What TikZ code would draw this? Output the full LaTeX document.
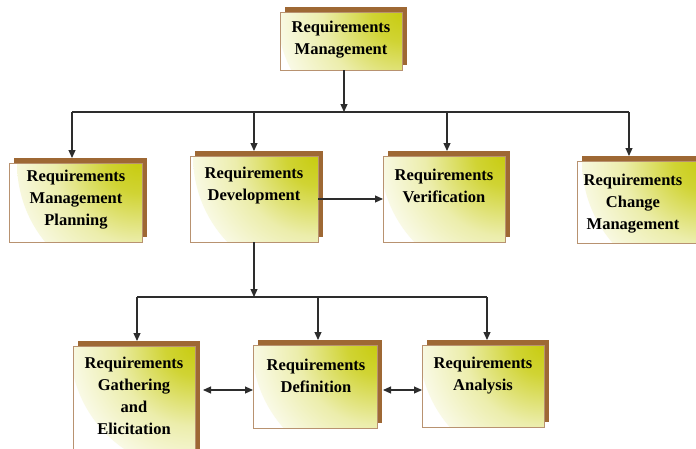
\documentclass[tikz,border=0pt]{standalone}
\usepackage{fontspec}
\setmainfont{Liberation Serif}
\usetikzlibrary{shadows,arrows.meta}
\definecolor{glowc}{RGB}{200,204,16}
\definecolor{edgec}{RGB}{184,146,112}
\definecolor{shadowc}{RGB}{158,104,52}
\definecolor{linec}{RGB}{45,45,45}
\pgfdeclareradialshading{cornerglow}{\pgfpoint{0bp}{0bp}}{color(0bp)=(glowc); color(6bp)=(glowc!85!white); color(16bp)=(glowc!35!white); color(26bp)=(glowc!8!white); color(34bp)=(white); color(50bp)=(white)}
\tikzset{
  rbox/.style={rectangle, draw=edgec, line width=0.9pt, fill=white, inner sep=0pt, outer sep=0pt,
    general shadow={shadow xshift=5pt, shadow yshift=5pt, fill=shadowc, draw=none},
    path picture={\shade[shading=cornerglow] (path picture bounding box.north east) circle (125pt);}},
  rtext/.style={align=center, inner sep=0pt, text=black, font=\bfseries\fontsize{16.5}{22}\selectfont},
  arr/.style={draw=linec, line width=1.1pt, -{Triangle[length=8pt,width=7pt]}},
  ln/.style={draw=linec, line width=1.1pt}
}
\begin{document}
\begin{tikzpicture}[x=1pt,y=-1pt]
\useasboundingbox (0,0) rectangle (696,448);
% boxes
\node[rbox, minimum width=122pt, minimum height=58pt] (top) at (341,41) {};
\node[rbox, minimum width=133pt, minimum height=79pt] (plan) at (75.5,202.5) {};
\node[rbox, minimum width=128pt, minimum height=86pt] (dev) at (254,199) {};
\node[rbox, minimum width=122pt, minimum height=86pt] (ver) at (444,199) {};
\node[rbox, minimum width=130pt, minimum height=82pt] (chg) at (642,202) {};
\node[rbox, minimum width=122pt, minimum height=114pt] (gat) at (134,403) {};
\node[rbox, minimum width=124pt, minimum height=83pt] (def) at (315,386.5) {};
\node[rbox, minimum width=122pt, minimum height=82pt] (ana) at (483,386) {};
% texts
\node[rtext] (topT) at (341,40) {Requirements\\Management};
\node[rtext] (planT) at (76,200) {Requirements\\Management\\Planning};
\node[rtext] (devT) at (254,186) {Requirements\\Development};
\node[rtext] (verT) at (444,186) {Requirements\\Verification};
\node[rtext] (chgT) at (633,204) {Requirements\\Change\\Management};
\node[rtext] (gatT) at (134,396) {Requirements\\Gathering\\and\\Elicitation};
\node[rtext] (defT) at (316,376) {Requirements\\Definition};
\node[rtext] (anaT) at (483,376) {Requirements\\Analysis};
% connectors level 1
\coordinate (b0) at (344,112);
\coordinate (b1) at (72,112);
\coordinate (b2) at (254,112);
\coordinate (b3) at (447,112);
\coordinate (b4) at (629,112);
\draw[arr] (top.south -| b0) -- (b0);
\draw[ln] (b1) -- (b4);
\draw[arr, shorten >=5pt] (b1) -- (b1 |- plan.north);
\draw[arr, shorten >=5pt] (b2) -- (b2 |- dev.north);
\draw[arr, shorten >=5pt] (b3) -- (b3 |- ver.north);
\draw[arr, shorten >=5pt] (b4) -- (b4 |- chg.north);
\draw[arr] (dev.east) -- (ver.west);
% connectors level 2
\coordinate (c0) at (254,297);
\coordinate (c1) at (137,297);
\coordinate (c2) at (318,297);
\coordinate (c3) at (487,297);
\draw[arr] (dev.south) -- (c0);
\draw[ln] (c1) -- (c3);
\draw[arr, shorten >=5pt] (c1) -- (c1 |- gat.north);
\draw[arr, shorten >=5pt] (c2) -- (c2 |- def.north);
\draw[arr, shorten >=5pt] (c3) -- (c3 |- ana.north);
\coordinate (da) at (0,390);
\draw[arr, {Triangle[length=8pt,width=7pt]}-{Triangle[length=8pt,width=7pt]}, shorten <=8pt] (gat.east |- da) -- (def.west |- da);
\draw[arr, {Triangle[length=8pt,width=7pt]}-{Triangle[length=8pt,width=7pt]}, shorten <=6pt] (def.east |- da) -- (ana.west |- da);
\end{tikzpicture}
\end{document}
